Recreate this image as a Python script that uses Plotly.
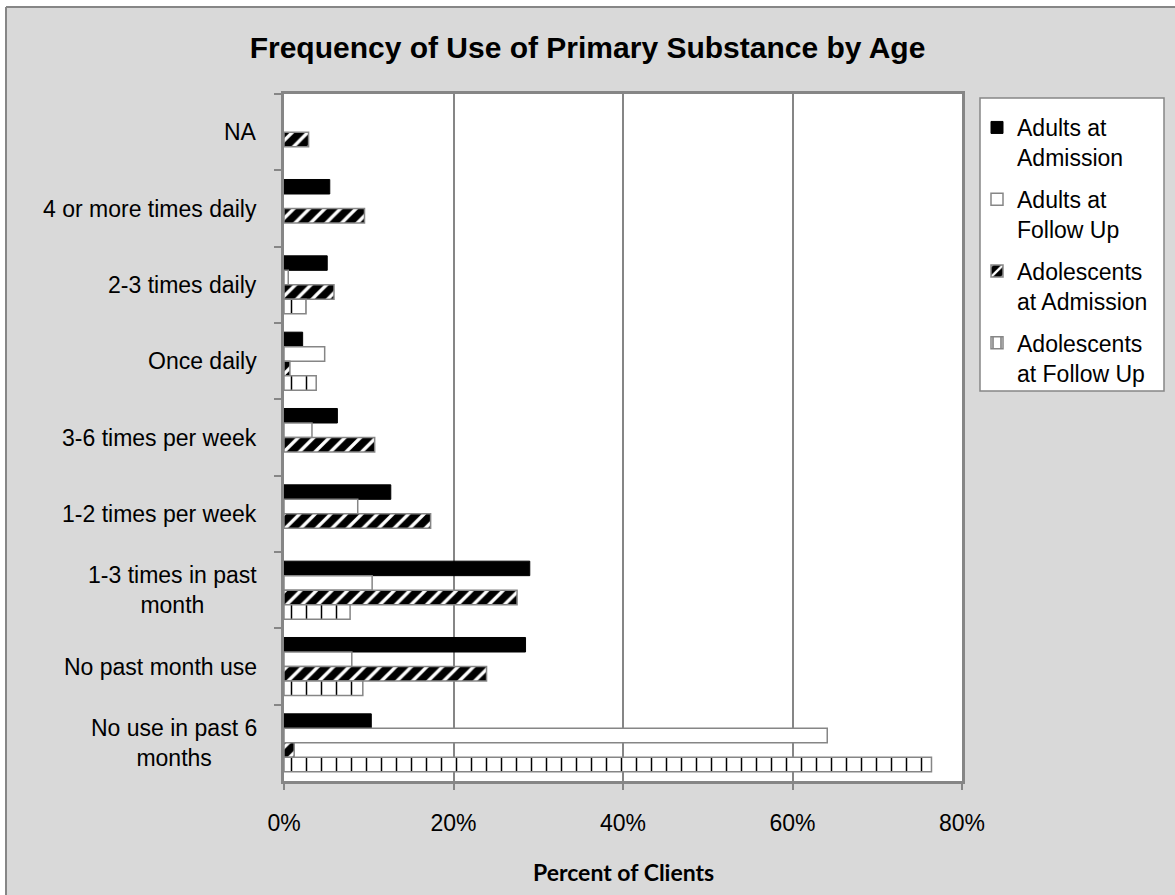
import plotly.graph_objects as go

# Response categories, top to bottom
categories = [
    "NA",
    "4 or more times daily",
    "2-3 times daily",
    "Once daily",
    "3-6 times per week",
    "1-2 times per week",
    "1-3 times in past<br>month",
    "No past month use",
    "No use in past 6<br>months",
]

# Percent of clients in each group
adults_admission = [0, 5.4, 5.1, 2.2, 6.3, 12.6, 29.0, 28.5, 10.3]
adults_follow_up = [0, 0, 0.5, 4.8, 3.3, 8.7, 10.4, 8.0, 64.1]
adolescents_admission = [2.9, 9.5, 5.9, 0.7, 10.7, 17.3, 27.5, 23.9, 1.2]
adolescents_follow_up = [0, 0, 2.6, 3.8, 0, 0, 7.8, 9.3, 76.4]

series_names = [
    "Adults at<br>Admission",
    "Adults at<br>Follow Up",
    "Adolescents<br>at Admission",
    "Adolescents<br>at Follow Up",
]

x_tick_values = [0, 20, 40, 60, 80]
x_tick_labels = ["0%", "20%", "40%", "60%", "80%"]

W, H = 1175, 895
L, R, T, B = 284, 962, 94, 781
GRAY = "#868686"
BG = "#d9d9d9"
FONT = "Liberation Sans, Arial, sans-serif"


def px(x):
    return (x - L) / (R - L)


def py(y):
    return (B - y) / (B - T)


fig = go.Figure()

styles = [
    dict(color="black", line_color="black", lw=1),
    dict(color="white", line_color=GRAY, lw=1.5),
    dict(color="black", line_color=GRAY, lw=1.5,
         pattern=dict(shape="/", bgcolor="black", fgcolor="white",
                      fgopacity=1, size=11, solidity=0.3)),
    dict(color="white", line_color=GRAY, lw=1.5,
         pattern=dict(shape="|", bgcolor="white", fgcolor="black",
                      fgopacity=1, size=15, solidity=0.1)),
]

for name, vals, st, grp in zip(
    series_names,
    [adults_admission, adults_follow_up, adolescents_admission, adolescents_follow_up],
    styles,
    ["a", "b", "c", "d"],
):
    # no outline on empty bars so nothing is drawn at zero
    widths = [st["lw"] if v > 0 else 0 for v in vals]
    marker = dict(color=st["color"], line=dict(color=st["line_color"], width=widths))
    legend_marker = dict(color=st["color"], line=dict(color=st["line_color"], width=st["lw"]))
    if "pattern" in st:
        marker["pattern"] = st["pattern"]
        legend_marker["pattern"] = st["pattern"]
    fig.add_trace(go.Bar(
        y=categories, x=vals, name=name, orientation="h",
        marker=marker, legendgroup=grp, offsetgroup=grp,
        showlegend=False, hoverinfo="x+y",
    ))
    # legend entry with the full outline
    fig.add_trace(go.Bar(
        y=[None], x=[None], name=name, orientation="h",
        marker=legend_marker, legendgroup=grp, offsetgroup=grp,
        showlegend=True, hoverinfo="skip",
    ))

# Category labels with centred multi-line text
annotations = []
for i, c in enumerate(categories):
    annotations.append(dict(
        x=px(259), y=i, xref="paper", yref="y", text=c, showarrow=False,
        xanchor="right", yanchor="middle", align="center",
        font=dict(family=FONT, size=23, color="black"),
    ))

annotations.append(dict(
    x=0.5, y=py(872), xref="paper", yref="paper", text="<b>Percent of Clients</b>",
    showarrow=False, xanchor="center", yanchor="middle",
    font=dict(family="Lato, Carlito, sans-serif", size=23, color="black"),
))

shapes = [
    # white margin strips outside the chart frame
    dict(type="rect", xref="paper", yref="paper", x0=px(0), x1=px(W), y0=py(0), y1=py(7),
         fillcolor="white", line=dict(width=0), layer="below"),
    dict(type="rect", xref="paper", yref="paper", x0=px(0), x1=px(6), y0=py(0), y1=py(H),
         fillcolor="white", line=dict(width=0), layer="below"),
    # chart frame
    dict(type="line", xref="paper", yref="paper", x0=px(6), x1=px(W), y0=py(7), y1=py(7),
         line=dict(color=GRAY, width=2), layer="below"),
    dict(type="line", xref="paper", yref="paper", x0=px(6), x1=px(6), y0=py(7), y1=py(H),
         line=dict(color=GRAY, width=2), layer="below"),
    # legend box
    dict(type="rect", xref="paper", yref="paper", x0=px(980), x1=px(1164), y0=py(98), y1=py(391),
         fillcolor="white", line=dict(color=GRAY, width=1.5), layer="below"),
]

fig.update_layout(
    width=W, height=H,
    margin=dict(l=L, r=W - R, t=T, b=H - B, pad=0),
    paper_bgcolor=BG, plot_bgcolor="white",
    barmode="group", bargap=0.24, bargroupgap=0,
    title=dict(text="<b>Frequency of Use of Primary Substance by Age</b>",
               x=0.5, xref="container", y=1 - 47 / H, yref="container",
               xanchor="center", yanchor="middle",
               font=dict(family=FONT, size=30, color="black")),
    xaxis=dict(range=[0, 80], tickvals=x_tick_values, ticktext=x_tick_labels,
               showgrid=True, gridcolor=GRAY, gridwidth=2,
               showline=True, linecolor=GRAY, linewidth=3, mirror=True,
               ticks="outside", ticklen=6, tickcolor=GRAY, tickwidth=2,
               ticklabelstandoff=13, zeroline=False,
               tickfont=dict(family=FONT, size=23, color="black")),
    yaxis=dict(categoryorder="array", categoryarray=categories, autorange="reversed",
               showticklabels=False, showgrid=False,
               showline=True, linecolor=GRAY, linewidth=3, mirror=True,
               ticks="outside", ticklen=7, tickcolor=GRAY, tickwidth=2,
               tickson="boundaries"),
    legend=dict(x=px(977), y=py(106), xanchor="left", yanchor="top",
                bgcolor="rgba(0,0,0,0)", borderwidth=0,
                traceorder="grouped", tracegroupgap=9, valign="top",
                font=dict(family=FONT, size=23, color="black")),
    annotations=annotations,
    shapes=shapes,
    showlegend=True,
)

fig.write_html("out.html")
